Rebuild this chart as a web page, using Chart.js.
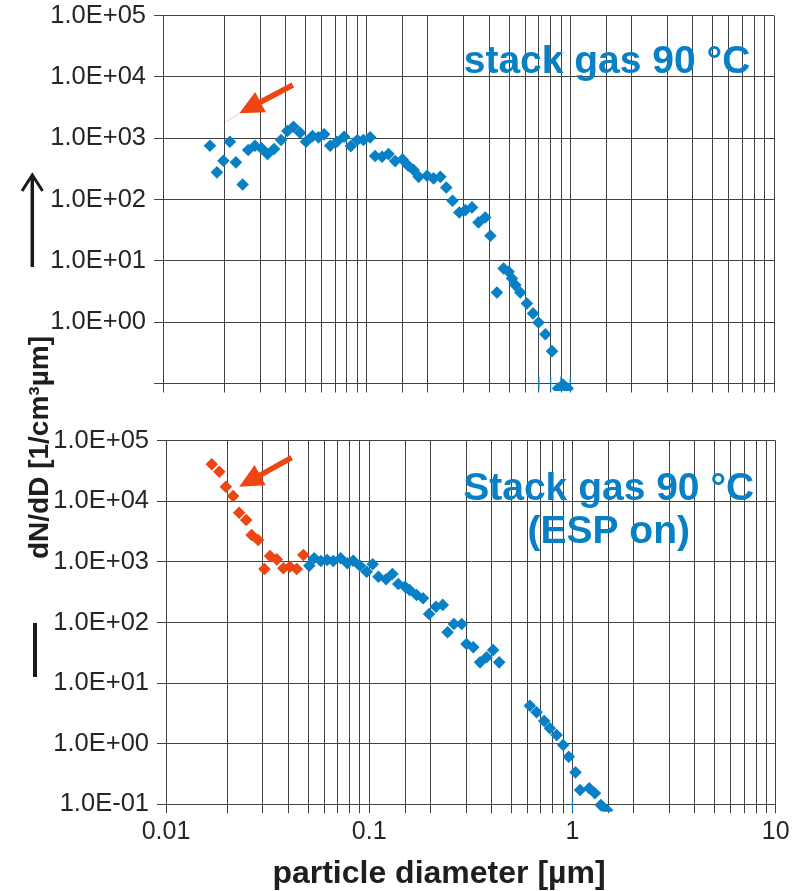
<!DOCTYPE html>
<html>
<head>
<meta charset="utf-8">
<script src="https://cdn.jsdelivr.net/npm/chart.js@4.4.1/dist/chart.umd.min.js"></script>
<style>
  html, body { margin: 0; padding: 0; background: #ffffff; }
  #wrap { position: relative; width: 798px; height: 891px; overflow: hidden; }
  #wrap canvas { position: absolute; left: 0; }
  #upper { top: -40px; }
  #lower { top: 0; }
</style>
</head>
<body>
<div id="wrap">
  <canvas id="upper" width="798" height="931"></canvas>
  <canvas id="lower" width="798" height="891"></canvas>
</div>
<script>
// ---- tick labels ----
const xTickLabels = ['0.01', '0.1', '1', '10'];            // decades 1e-2 .. 1e1
const yTickLabels = ['1.0E-01', '1.0E+00', '1.0E+01', '1.0E+02', '1.0E+03', '1.0E+04', '1.0E+05']; // 1e-1 .. 1e5

// ---- upper panel: stack gas 90 °C ----
const upperDiameter = [0.0170, 0.0184, 0.0198, 0.0213, 0.0228, 0.0246, 0.0262, 0.0283, 0.0305, 0.0326,
  0.0351, 0.0380, 0.0408, 0.0437, 0.0471, 0.0504, 0.0542, 0.0580, 0.0618, 0.0662,
  0.0714, 0.0775, 0.0836, 0.0901, 0.0964, 0.104, 0.110, 0.119, 0.128, 0.138,
  0.150, 0.160, 0.170, 0.180, 0.198, 0.213, 0.230, 0.246, 0.264, 0.285,
  0.305, 0.329, 0.354, 0.382, 0.405, 0.436, 0.470, 0.498, 0.517, 0.537,
  0.568, 0.612, 0.656, 0.698, 0.754, 0.813, 0.87, 0.92, 0.97];
const upperDNdD = [752, 277, 428, 873, 403, 176, 640, 752, 681, 550,
  664, 931, 1306, 1535, 1224, 873, 1081, 1031, 1153, 752,
  873, 1054, 743, 931, 931, 1031, 511, 498, 550, 423,
  451, 355, 302, 234, 244, 221, 234, 157, 95.3, 61.5,
  67.1, 74.3, 42.3, 51, 25.6, 3.05, 7.52, 6.62, 5.16, 4.02,
  3.05, 2.02, 1.39, 0.99, 0.637, 0.337, 0.083, 0.096, 0.083];
// channels at or below the lower axis limit
const upperFloorDiameter = [0.7, 0.8, 0.9, 1.0];
const upperFloorDNdD = [0.1, 0.1, 0.1, 0.1];

// ---- lower panel: Stack gas 90 °C (ESP on) ----
const lowerRedDiameter = [0.0168, 0.0183, 0.0197, 0.0214, 0.0229, 0.0248, 0.0264, 0.0284, 0.0305, 0.0325,
  0.0351, 0.0378, 0.0407, 0.0440, 0.0474];
const lowerRedDNdD = [40800, 30800, 17400, 12200, 6490, 4910, 2780, 2300, 764, 1250,
  1100, 784, 834, 764, 1300];
const lowerBlueDiameter = [0.0507, 0.0536, 0.0578, 0.0621, 0.0665, 0.0723, 0.078, 0.0834, 0.090, 0.0971,
  0.104, 0.111, 0.121, 0.130, 0.139, 0.150, 0.158, 0.171, 0.184, 0.197,
  0.213, 0.230, 0.243, 0.261, 0.285, 0.301, 0.325, 0.351, 0.378, 0.407,
  0.436, 0.617, 0.666, 0.726, 0.774, 0.836, 0.900, 0.959, 1.035, 1.09,
  1.21, 1.29, 1.38, 1.48];
const lowerBlueDNdD = [866, 1146, 1035, 1075, 1035, 1146, 948, 1047, 866, 689,
  912, 570, 516, 631, 432, 390, 344, 284, 251, 138,
  182, 195, 68.9, 94.4, 94.4, 44.2, 39, 22, 26.7, 35.2,
  22, 4.24, 3.30, 2.37, 1.80, 1.39, 0.952, 0.610, 0.337, 0.172,
  0.184, 0.152, 0.097, 0.08];
const lowerFloorDiameter = [1.0];
const lowerFloorDNdD = [0.1];

// ---- annotation anchors (data coordinates) ----
const upperArrow = { tail: [0.0434, 7350], tip: [0.0237, 2540] };
const lowerArrow = { tail: [0.0415, 52400], tip: [0.0229, 17400] };

const BLUE = '#0780c6';
const RED = '#ee4512';
const GRID = '#424242';
const TEXT = '#262626';
const FONT = '"Liberation Sans", Arial, sans-serif';
const UPPER_SHIFT = 40;   // upper canvas sits 40px above the page top

Chart.defaults.font.family = FONT;

const pairs = (xs, ys) => xs.map((x, i) => ({ x, y: ys[i] }));
const decadeOf = v => Math.round(Math.log10(v));
const isDecade = v => Math.abs(Math.log10(v) - decadeOf(v)) < 1e-6;

function drawArrow(ctx, x1, y1, x2, y2, color) {
  const ang = Math.atan2(y2 - y1, x2 - x1);
  const headLen = 24, headHalf = 11.5;
  const bx = x2 - Math.cos(ang) * headLen, by = y2 - Math.sin(ang) * headLen;
  ctx.save();
  ctx.strokeStyle = color;
  ctx.fillStyle = color;
  ctx.lineWidth = 5.5;
  ctx.lineCap = 'butt';
  ctx.beginPath();
  ctx.moveTo(x1, y1);
  ctx.lineTo(bx + Math.cos(ang) * 2, by + Math.sin(ang) * 2);
  ctx.stroke();
  ctx.beginPath();
  ctx.moveTo(x2, y2);
  ctx.lineTo(bx - Math.sin(ang) * headHalf, by + Math.cos(ang) * headHalf);
  ctx.lineTo(bx + Math.sin(ang) * headHalf, by - Math.cos(ang) * headHalf);
  ctx.closePath();
  ctx.fill();
  ctx.restore();
}

function scatterSet(label, xs, ys, color) {
  return {
    label, data: pairs(xs, ys),
    pointStyle: 'rectRot', pointRadius: 6.3, pointHoverRadius: 6.3,
    pointBackgroundColor: color, pointBorderWidth: 0,
    showLine: false,
    clip: { left: 8, top: 8, right: 8, bottom: 7.5 }
  };
}
function floorSet(xs, ys) {
  return {
    label: 'below range', data: pairs(xs, ys),
    pointStyle: 'line', pointRotation: 90, pointRadius: 7, pointHoverRadius: 7,
    pointBorderColor: BLUE, pointBorderWidth: 1.3, pointBackgroundColor: BLUE,
    showLine: false,
    clip: { left: 8, top: 8, right: 8, bottom: 8 }
  };
}

function makePanel(canvasId, cfg) {
  return new Chart(document.getElementById(canvasId), {
    type: 'scatter',
    data: { datasets: cfg.datasets },
    options: {
      responsive: false,
      maintainAspectRatio: false,
      devicePixelRatio: 1,
      animation: false,
      events: [],
      layout: { padding: cfg.padding },
      plugins: { legend: { display: false }, tooltip: { enabled: false } },
      scales: {
        x: {
          type: 'logarithmic', min: 0.01, max: 10,
          border: { display: true, color: GRID, width: 1 },
          grid: { color: GRID, lineWidth: 1, drawTicks: true, tickLength: 9, tickColor: GRID },
          ticks: {
            display: cfg.xLabels, autoSkip: false, maxRotation: 0, minRotation: 0, padding: 4,
            color: TEXT, font: { size: 25 },
            callback: v => isDecade(v) ? xTickLabels[decadeOf(v) + 2] : ''
          },
          afterFit: s => { s.height = cfg.xHeight; }
        },
        y: {
          type: 'logarithmic', min: 0.1, max: 1e5,
          afterBuildTicks: s => { s.ticks = s.ticks.filter(t => isDecade(t.value)); },
          border: { display: true, color: GRID, width: 1 },
          grid: { color: GRID, lineWidth: 1, drawTicks: true, tickLength: 9, tickColor: GRID },
          ticks: {
            autoSkip: false, padding: 8, color: TEXT, font: { size: 25.5 },
            callback: v => {
              const d = decadeOf(v);
              if (cfg.hideFloorLabel && d === -1) return '';
              return yTickLabels[d + 1];
            }
          },
          afterFit: s => { s.width = cfg.yWidth; }
        }
      }
    },
    plugins: [{ id: 'panelNotes', afterDraw: cfg.notes }]
  });
}

// upper panel
makePanel('upper', {
  padding: { top: 15.5 + UPPER_SHIFT, left: 0, right: 24, bottom: 891 - 383.5 - 12 },
  xHeight: 12, yWidth: 163, xLabels: false, hideFloorLabel: true,
  datasets: [
    floorSet(upperFloorDiameter, upperFloorDNdD),
    scatterSet('stack gas 90 °C', upperDiameter, upperDNdD, BLUE)
  ],
  notes: chart => {
    const { ctx, chartArea: a, scales: { x, y } } = chart;
    ctx.save();
    ctx.font = 'bold 39px ' + FONT;
    ctx.fillStyle = BLUE;
    ctx.textAlign = 'center';
    ctx.textBaseline = 'alphabetic';
    ctx.fillText('stack gas 90 °C', a.right - 167, a.top + 57);
    // faint leader trace beyond the arrow tip
    const tx = x.getPixelForValue(upperArrow.tip[0]), ty = y.getPixelForValue(upperArrow.tip[1]);
    ctx.strokeStyle = 'rgba(238,69,18,0.3)';
    ctx.lineWidth = 1;
    ctx.beginPath();
    ctx.moveTo(tx, ty);
    ctx.lineTo(tx - 14, ty + 9);
    ctx.stroke();
    drawArrow(ctx, x.getPixelForValue(upperArrow.tail[0]), y.getPixelForValue(upperArrow.tail[1]), tx, ty, RED);
    // upward arrow in the margin
    ctx.translate(0, UPPER_SHIFT);
    ctx.strokeStyle = '#1a1a1a';
    ctx.lineWidth = 3.5;
    ctx.lineCap = 'butt';
    ctx.beginPath();
    ctx.moveTo(32.3, 267); ctx.lineTo(32.3, 176);
    ctx.stroke();
    ctx.lineWidth = 3;
    ctx.beginPath();
    ctx.moveTo(22, 191); ctx.lineTo(32.3, 175); ctx.lineTo(42.6, 191);
    ctx.stroke();
    ctx.restore();
  }
});

// lower panel
makePanel('lower', {
  padding: { top: 440.7, left: 0, right: 22.3, bottom: 0 },
  xHeight: 891 - 804.3, yWidth: 166, xLabels: true, hideFloorLabel: false,
  datasets: [
    floorSet(lowerFloorDiameter, lowerFloorDNdD),
    scatterSet('Stack gas 90 °C (ESP on)', lowerBlueDiameter, lowerBlueDNdD, BLUE),
    scatterSet('Stack gas 90 °C (ESP on), nucleation mode', lowerRedDiameter, lowerRedDNdD, RED)
  ],
  notes: chart => {
    const { ctx, chartArea: a, scales: { x, y } } = chart;
    ctx.save();
    ctx.font = 'bold 39px ' + FONT;
    ctx.fillStyle = BLUE;
    ctx.textAlign = 'center';
    ctx.textBaseline = 'alphabetic';
    ctx.fillText('Stack gas 90 °C', a.right - 167, a.top + 59.3);
    ctx.fillText('(ESP on)', a.right - 167, a.top + 102.3);
    drawArrow(ctx, x.getPixelForValue(lowerArrow.tail[0]), y.getPixelForValue(lowerArrow.tail[1]),
      x.getPixelForValue(lowerArrow.tip[0]), y.getPixelForValue(lowerArrow.tip[1]), RED);
    // margin bar
    ctx.strokeStyle = '#1a1a1a';
    ctx.lineWidth = 4;
    ctx.beginPath();
    ctx.moveTo(35, 623); ctx.lineTo(35, 677);
    ctx.stroke();
    // axis titles
    ctx.fillStyle = '#1e1e1e';
    ctx.font = 'bold 32px ' + FONT;
    ctx.textAlign = 'center';
    ctx.textBaseline = 'alphabetic';
    ctx.fillText('particle diameter [µm]', 439, 883);
    ctx.translate(48, 447.5);
    ctx.rotate(-Math.PI / 2);
    ctx.font = 'bold 28px ' + FONT;
    ctx.fillText('dN/dD [1/cm³µm]', 0, 0);
    ctx.restore();
  }
});
</script>
</body>
</html>
